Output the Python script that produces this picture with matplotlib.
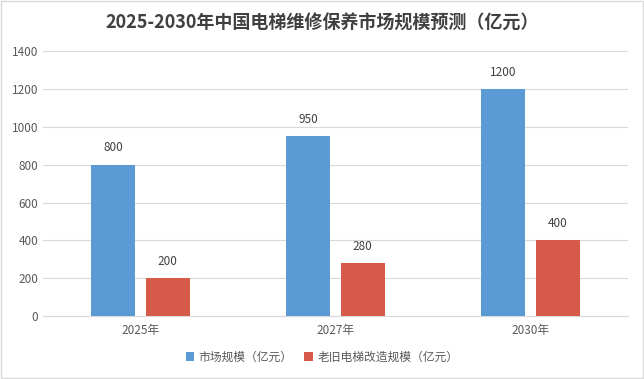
import numpy as np
import matplotlib
matplotlib.use("Agg")
import matplotlib.pyplot as plt

plt.rcParams['font.family'] = ['Noto Sans CJK SC', 'DejaVu Sans']

categories = ["2025年", "2027年", "2030年"]
market = [800, 950, 1200]
renovation = [200, 280, 400]
series_names = ["市场规模（亿元）", "老旧电梯改造规模（亿元）"]

fig = plt.figure(figsize=(6.44, 3.79), dpi=100)
ax = fig.add_axes([0.067, 0.166, 0.908, 0.699])

x = np.arange(len(categories))
w = 0.225
b1 = ax.bar(x - 0.14, market, w, color="#5b9bd5", label=series_names[0], zorder=3)
b2 = ax.bar(x + 0.14, renovation, w, color="#d55a4a", label=series_names[1], zorder=3)

for bars in (b1, b2):
    for r in bars:
        ax.text(r.get_x() + r.get_width() / 2, r.get_height() + 55, f"{int(r.get_height())}",
                ha="center", va="bottom", fontsize=8.5, color="#404040")

ax.set_xlim(-0.5, 2.5)
ax.set_ylim(0, 1400)
ax.set_yticks(range(0, 1401, 200))
ax.set_xticks(x)
ax.set_xticklabels(categories)
ax.tick_params(axis="both", length=0, labelsize=8.5, colors="#595959")
ax.tick_params(axis="x", pad=6)
ax.grid(axis="y", color="#d9d9d9", linewidth=0.8, zorder=0)
for s in ["top", "right", "left"]:
    ax.spines[s].set_visible(False)
ax.spines["bottom"].set_color("#d9d9d9")

fig.text(0.5, 0.94, "2025-2030年中国电梯维修保养市场规模预测（亿元）", ha="center", va="center",
         fontsize=13, fontweight="bold", color="#404040")

fig.legend(loc="center", bbox_to_anchor=(0.5, 0.058), ncol=2, frameon=False, fontsize=8.5,
           handlelength=0.7, handleheight=0.7, handletextpad=0.4, columnspacing=1.0,
           labelcolor="#595959")

fig.patches.append(plt.Rectangle((0.002, 0.003), 0.996, 0.994, transform=fig.transFigure,
                                 fill=False, edgecolor="#d9d9d9", linewidth=1))

fig.savefig("out.png", dpi=100)
